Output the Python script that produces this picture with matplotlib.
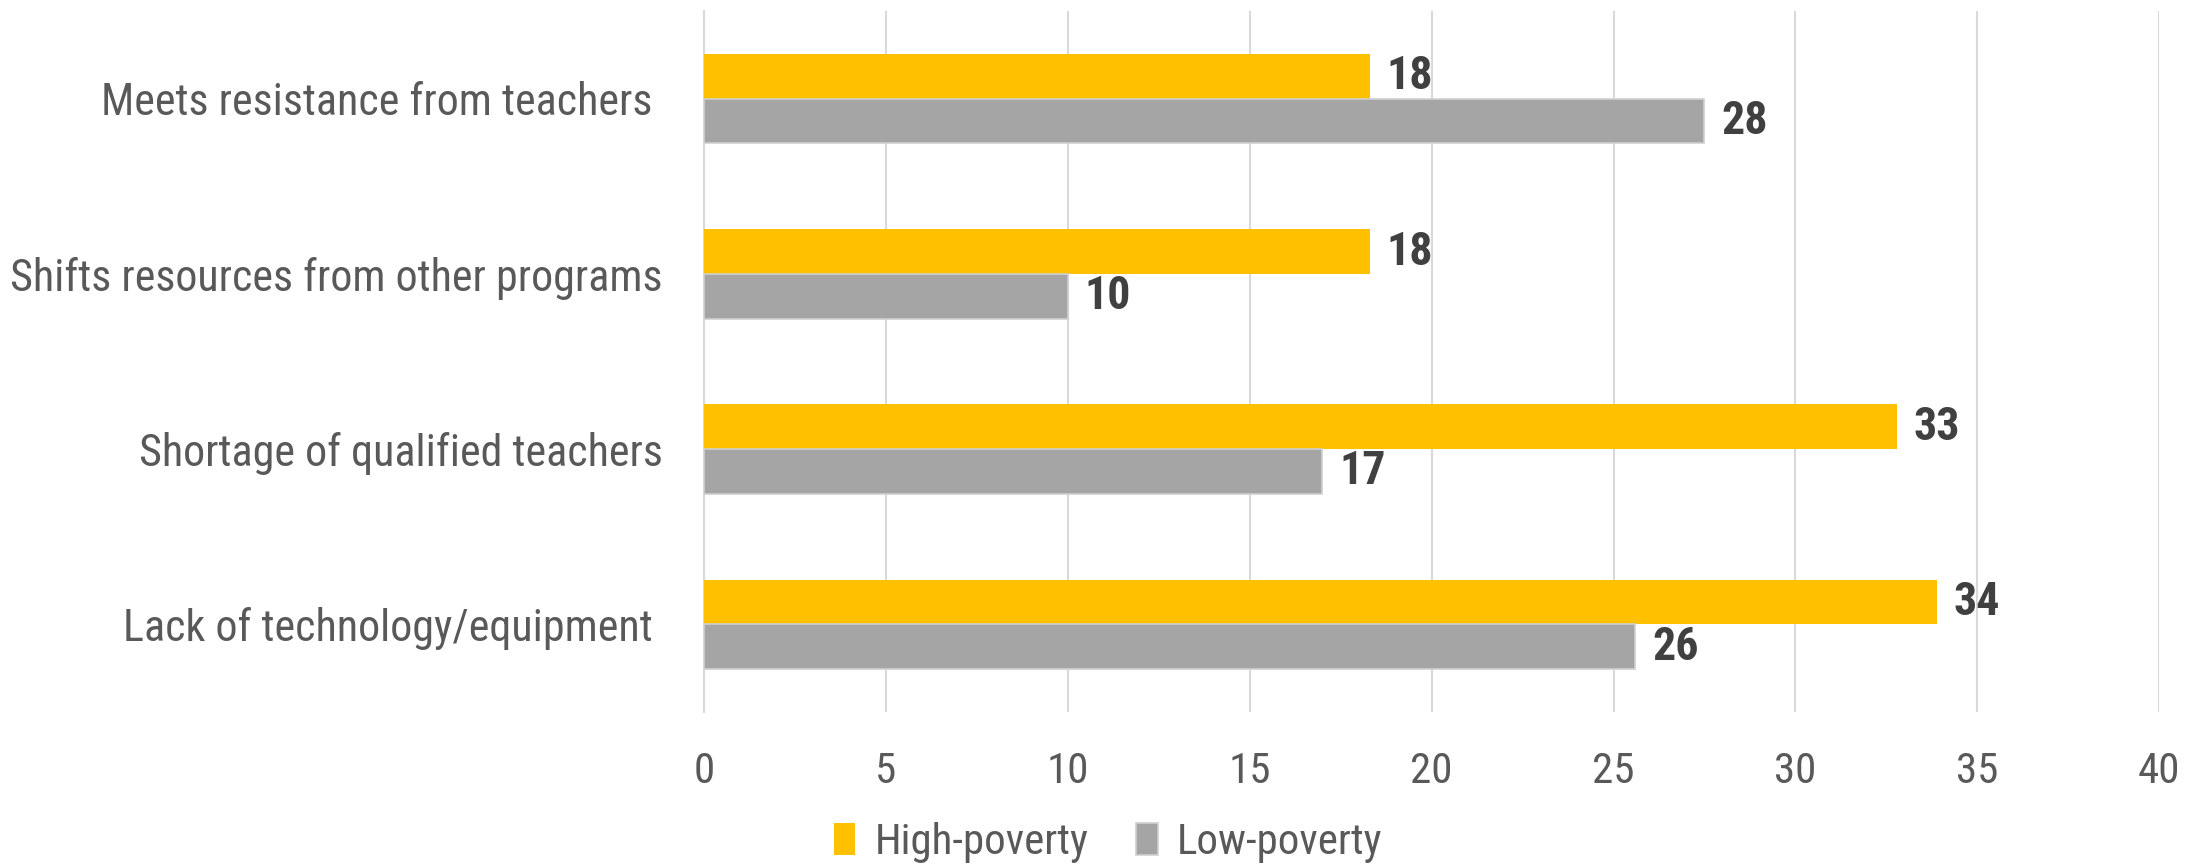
import numpy as np
import matplotlib.pyplot as plt

# categories listed bottom to top (barh draws index 0 at the bottom)
categories = ['Lack of technology/equipment ', 'Shortage of qualified teachers',
              'Shifts resources from other programs', 'Meets resistance from teachers ']
high_poverty = [33.9, 32.8, 18.3, 18.3]
low_poverty = [25.6, 17.0, 10.0, 27.5]
high_labels = ['34', '33', '18', '18']
low_labels = ['26', '17', '10', '28']
series_names = ['High-poverty', 'Low-poverty']

plt.rcParams['font.family'] = ['Roboto Condensed', 'Liberation Sans Narrow',
                               'Liberation Sans', 'DejaVu Sans']

fig = plt.figure(figsize=(22.03, 8.65), dpi=100)
ax = fig.add_axes([0.3196, 0.177, 0.6605, 0.810])

y = np.arange(len(categories))
h = 0.255

b1 = ax.barh(y + h / 2, high_poverty, height=h, color='#FFC000', label=series_names[0], zorder=3)
b2 = ax.barh(y - h / 2, low_poverty, height=h, color='#A5A5A5', label=series_names[1],
             edgecolor='#D0D0D0', linewidth=1.2, zorder=3)

for bars, labels in [(b1, high_labels), (b2, low_labels)]:
    for bar, txt in zip(bars, labels):
        ax.annotate(txt, (bar.get_width(), bar.get_y() + bar.get_height() / 2),
                    xytext=(12, 0), textcoords='offset points', va='center', ha='left',
                    fontsize=33, fontweight='bold', color='#404040')

ax.set_xlim(0, 40)
ax.set_ylim(-0.5, 3.5)
ax.set_xticks(range(0, 41, 5))
ax.set_yticks(y)
ax.set_yticklabels(categories)
ax.tick_params(axis='y', length=0, pad=30, labelsize=31.7, labelcolor='#595959')
ax.tick_params(axis='x', length=0, pad=28, labelsize=31, labelcolor='#595959')
ax.grid(axis='x', color='#D9D9D9', linewidth=1.5, zorder=0)
for s in ['top', 'right', 'bottom']:
    ax.spines[s].set_visible(False)
ax.spines['left'].set_color('#D9D9D9')
ax.spines['left'].set_linewidth(1.5)

fig.legend(loc='center', bbox_to_anchor=(0.503, 0.026), ncol=2, frameon=False,
           fontsize=31, labelcolor='#595959', handlelength=0.5, handleheight=0.75,
           handletextpad=0.45, columnspacing=1.1)

fig.savefig('out.png', dpi=100)
